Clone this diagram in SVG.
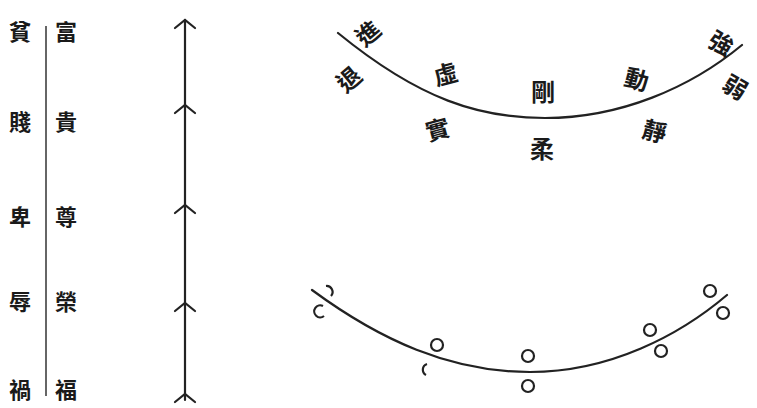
<svg xmlns="http://www.w3.org/2000/svg" width="757" height="408" viewBox="0 0 757 408">
<style>
.t{font-family:"Noto Sans CJK TC","Noto Sans CJK SC",sans-serif;font-weight:700;fill:#1a1a1a;text-anchor:middle;dominant-baseline:central}
.s{font-size:22px}
.a{font-size:24px}
.ln{fill:none;stroke:#222;stroke-width:2.2;stroke-linecap:round}
.c{fill:none;stroke:#222;stroke-width:2.2}
</style>
<defs>
<path id="chev" d="M-10,8 L0,0 L10,8" class="ln"/>
</defs>
<rect width="757" height="408" fill="#fff"/>
<g id="columns">
<text class="t s" x="20" y="30">貧</text>
<text class="t s" x="66" y="30">富</text>
<text class="t s" x="20" y="120">賤</text>
<text class="t s" x="66" y="120">貴</text>
<text class="t s" x="20" y="215">卑</text>
<text class="t s" x="66" y="215">尊</text>
<text class="t s" x="20" y="300">辱</text>
<text class="t s" x="66" y="300">榮</text>
<text class="t s" x="20" y="388">禍</text>
<text class="t s" x="66" y="388">福</text>
<line x1="46" y1="26" x2="46" y2="396" stroke="#333" stroke-width="1.5"/>
</g>
<g id="arrow-line">
<line x1="185" y1="20" x2="185" y2="400" class="ln"/>
<use href="#chev" x="185" y="20"/>
<use href="#chev" x="185" y="105"/>
<use href="#chev" x="185" y="205"/>
<use href="#chev" x="185" y="303"/>
<use href="#chev" x="185" y="394"/>
</g>
<g id="upper-arc">
<path class="ln" d="M338,33 C420,100 480,118 545,118 C620,118 690,88 742,45"/>
<text class="t a" transform="translate(367,32) rotate(-40)">進</text>
<text class="t a" transform="translate(348,78) rotate(-40)">退</text>
<text class="t a" transform="translate(445,73) rotate(-15)">虛</text>
<text class="t a" transform="translate(437,128) rotate(-15)">實</text>
<text class="t a" transform="translate(543,90)">剛</text>
<text class="t a" transform="translate(542,147)">柔</text>
<text class="t a" transform="translate(637,78) rotate(15)">動</text>
<text class="t a" transform="translate(655,130) rotate(15)">靜</text>
<text class="t a" transform="translate(722,42) rotate(30)">強</text>
<text class="t a" transform="translate(736,86) rotate(30)">弱</text>
</g>
<g id="lower-arc">
<path class="ln" d="M312,290 C380,340 450,372 530,372 C610,372 680,335 727,295"/>
<path class="c" d="M323,306 A6,6 0 1 0 324,316"/>
<path class="c" d="M326,286 A6,6 0 0 1 331,296"/>
<circle class="c" cx="437" cy="345" r="6"/>
<path class="c" d="M427,364 A6,6 0 0 0 426,375"/>
<circle class="c" cx="528" cy="356" r="6"/>
<circle class="c" cx="528" cy="386" r="6"/>
<circle class="c" cx="650" cy="330" r="6"/>
<circle class="c" cx="661" cy="351" r="6"/>
<circle class="c" cx="710" cy="291" r="6"/>
<circle class="c" cx="723" cy="313" r="6"/>
</g>
</svg>
